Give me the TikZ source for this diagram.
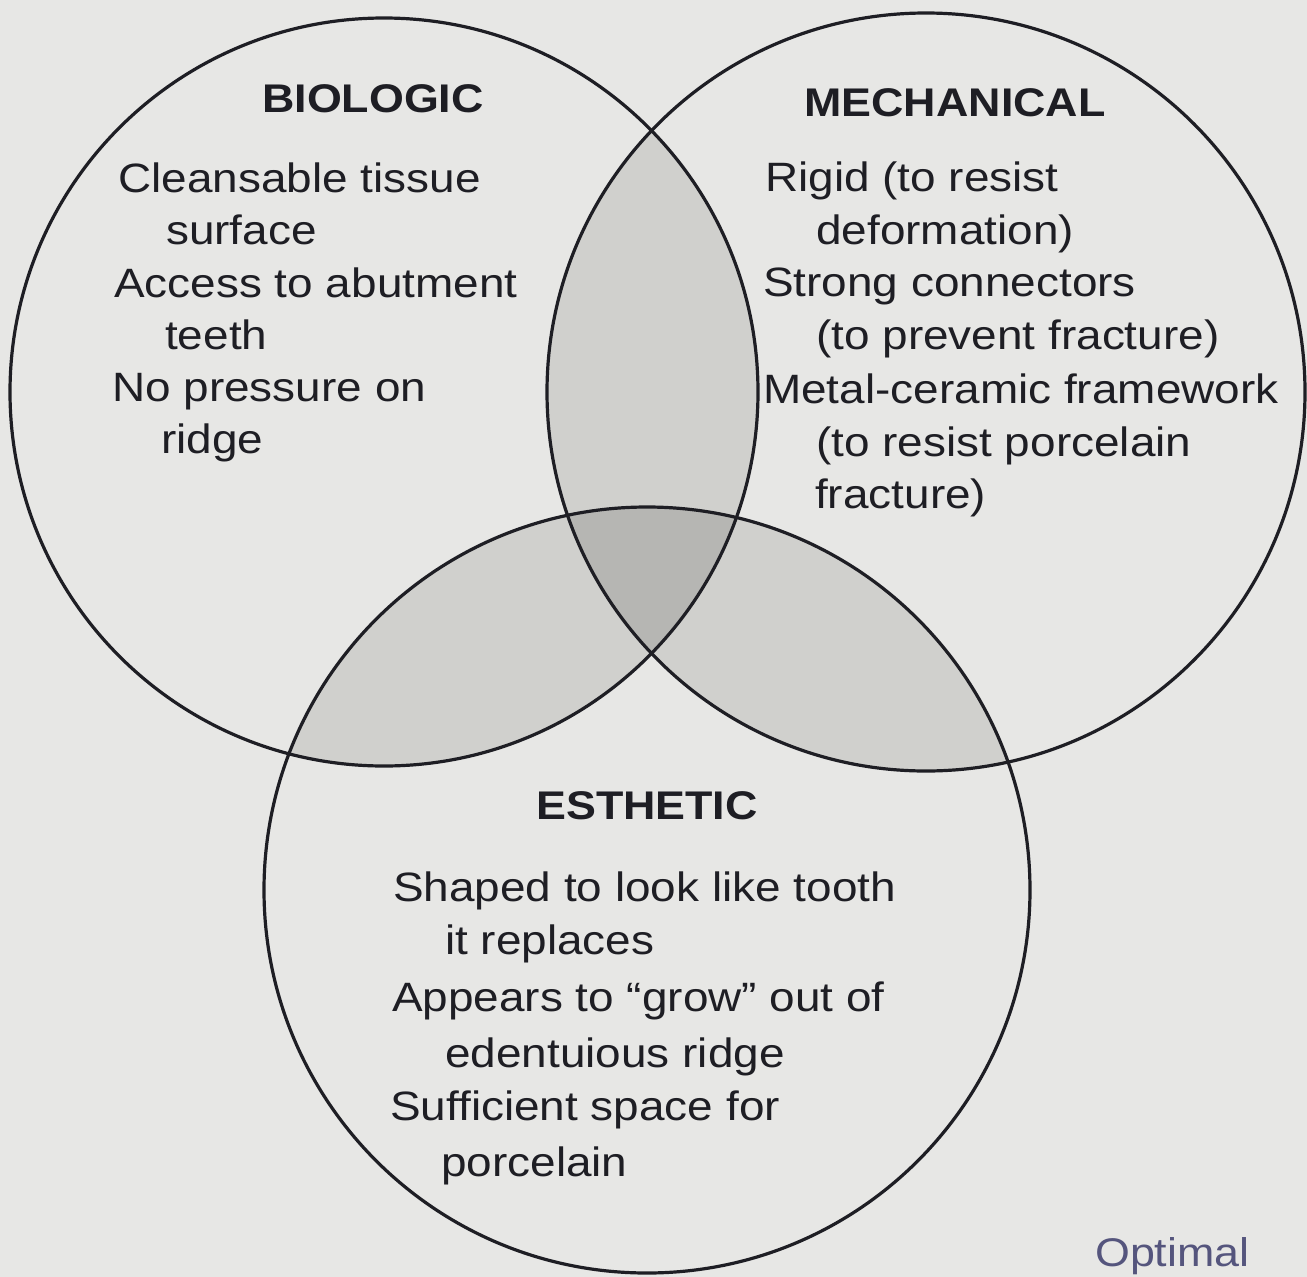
\documentclass[tikz,border=0pt]{standalone}
\usepackage{fontspec}
\setmainfont[FakeStretch=1.12]{Liberation Sans}
\definecolor{paper}{RGB}{231,231,229}
\definecolor{lens}{RGB}{208,208,205}
\definecolor{core}{RGB}{182,182,179}
\definecolor{ink}{RGB}{30,30,36}
\definecolor{inkblue}{RGB}{85,85,125}
\begin{document}
\begin{tikzpicture}[x=1pt,y=-1pt,
  ring/.style={draw=ink,line width=3.2pt},
  head/.style={anchor=base,font=\fontsize{40}{48}\selectfont\bfseries,text=ink,inner sep=0pt},
  item/.style={anchor=base west,font=\fontsize{41}{50}\selectfont,text=ink,inner sep=0pt}]
\useasboundingbox (0,0) rectangle (1307,1277);
\clip (0,0) rectangle (1307,1277);
\fill[paper] (0,0) rectangle (1307,1277);

\coordinate (cB) at (384,392);
\coordinate (cM) at (926,392);
\coordinate (cE) at (647,890);

% pairwise overlaps
\begin{scope}
  \clip (cB) circle[radius=374pt];
  \fill[lens] (cM) circle[radius=379pt];
  \fill[lens] (cE) circle[radius=383pt];
\end{scope}
\begin{scope}
  \clip (cM) circle[radius=379pt];
  \fill[lens] (cE) circle[radius=383pt];
\end{scope}
% triple overlap
\begin{scope}
  \clip (cB) circle[radius=374pt];
  \clip (cM) circle[radius=379pt];
  \fill[core] (cE) circle[radius=383pt];
\end{scope}

\draw[ring] (cB) circle[radius=374pt];
\draw[ring] (cM) circle[radius=379pt];
\draw[ring] (cE) circle[radius=383pt];

% BIOLOGIC
\node[head] (hB) at (373,112) {BIOLOGIC};
\node[item] (b1) at (118,192) {Cleansable tissue};
\node[item] (b2) at (166,244) {surface};
\node[item] (b3) at (114,297) {Access to abutment};
\node[item] (b4) at (165,349) {teeth};
\node[item] (b5) at (112,401) {No pressure on};
\node[item] (b6) at (161,453) {ridge};

% MECHANICAL
\node[head] (hM) at (955,116) {MECHANICAL};
\node[item] (m1) at (765,191) {Rigid (to resist};
\node[item] (m2) at (816,244) {deformation)};
\node[item] (m3) at (763,296) {Strong connectors};
\node[item] (m4) at (816,349) {(to prevent fracture)};
\node[item] (m5) at (763,403) {Metal-ceramic framework};
\node[item] (m6) at (816,456) {(to resist porcelain};
\node[item] (m7) at (815,508) {fracture)};

% ESTHETIC
\node[head] (hE) at (647,819) {ESTHETIC};
\node[item] (e1) at (393,901) {Shaped to look like tooth};
\node[item] (e2) at (445,954) {it replaces};
\node[item] (e3) at (392,1011) {Appears to “grow” out of};
\node[item] (e4) at (445,1067) {edentuious ridge};
\node[item] (e5) at (390,1120) {Sufficient space for};
\node[item] (e6) at (441,1176) {porcelain};

\node[anchor=base west,font=\fontsize{40}{48}\selectfont,text=inkblue,inner sep=0pt] (opt) at (1095,1266) {Optimal};
\end{tikzpicture}
\end{document}
